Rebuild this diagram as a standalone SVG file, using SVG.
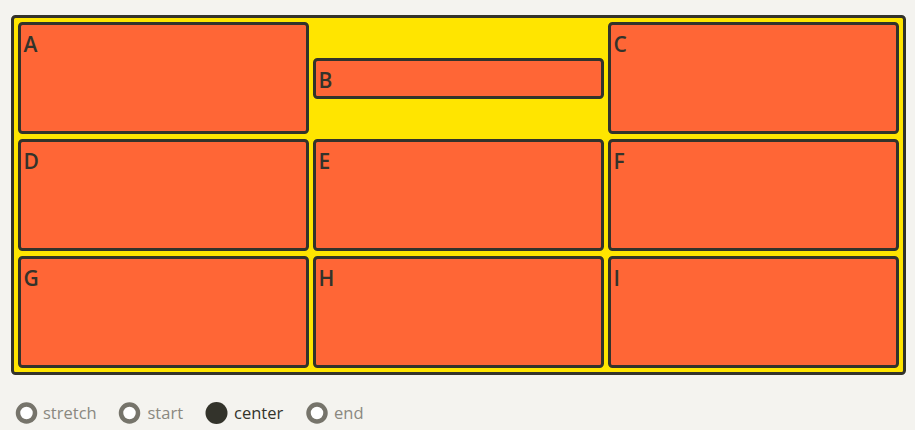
<svg xmlns="http://www.w3.org/2000/svg" width="915" height="430" viewBox="0 0 915 430">
<style>
.bg{fill:#f4f3ef}
.wrap{fill:#ffe500;stroke:#33332b;stroke-width:3}
.cell{fill:#ff6636;stroke:#33332b;stroke-width:3}
.lbl{font-family:"Open Sans","Liberation Sans",sans-serif;font-weight:600;font-size:21px;fill:#33332b}
.opt{font-family:"Open Sans","Liberation Sans",sans-serif;font-size:16.5px;fill:#8a8880}
.opt.on{fill:#33332b}
.ring{fill:#fff;stroke:#76746b;stroke-width:4.5}
.dot{fill:#33332b}
</style>
<rect class="bg" x="0" y="0" width="915" height="430"/>
<g id="container"><rect class="wrap" x="12.5" y="16.5" width="892" height="357" rx="3"/></g>
<g id="A"><rect class="cell" x="19.5" y="23.5" width="288" height="109" rx="3"/><text class="lbl" x="23.5" y="52">A</text></g>
<g id="B"><rect class="cell" x="314.5" y="59.5" width="288" height="38" rx="3"/><text class="lbl" x="318.5" y="87.5">B</text></g>
<g id="C"><rect class="cell" x="609.5" y="23.5" width="288" height="109" rx="3"/><text class="lbl" x="613.5" y="52">C</text></g>
<g id="D"><rect class="cell" x="19.5" y="140.5" width="288" height="109" rx="3"/><text class="lbl" x="23.5" y="169">D</text></g>
<g id="E"><rect class="cell" x="314.5" y="140.5" width="288" height="109" rx="3"/><text class="lbl" x="318.5" y="169">E</text></g>
<g id="F"><rect class="cell" x="609.5" y="140.5" width="288" height="109" rx="3"/><text class="lbl" x="613.5" y="169">F</text></g>
<g id="G"><rect class="cell" x="19.5" y="257.5" width="288" height="109" rx="3"/><text class="lbl" x="23.5" y="286">G</text></g>
<g id="H"><rect class="cell" x="314.5" y="257.5" width="288" height="109" rx="3"/><text class="lbl" x="318.5" y="286">H</text></g>
<g id="I"><rect class="cell" x="609.5" y="257.5" width="288" height="109" rx="3"/><text class="lbl" x="613.5" y="286">I</text></g>
<g id="connectors"></g>
<g id="options">
<circle class="ring" cx="26.5" cy="413" r="8.5"/><text class="opt" x="43" y="419">stretch</text>
<circle class="ring" cx="129.5" cy="413" r="8.5"/><text class="opt" x="147.5" y="419">start</text>
<circle class="dot" cx="216.5" cy="413" r="11"/><text class="opt on" x="234" y="419">center</text>
<circle class="ring" cx="317" cy="413" r="8.5"/><text class="opt" x="334" y="419">end</text>
</g>
</svg>
